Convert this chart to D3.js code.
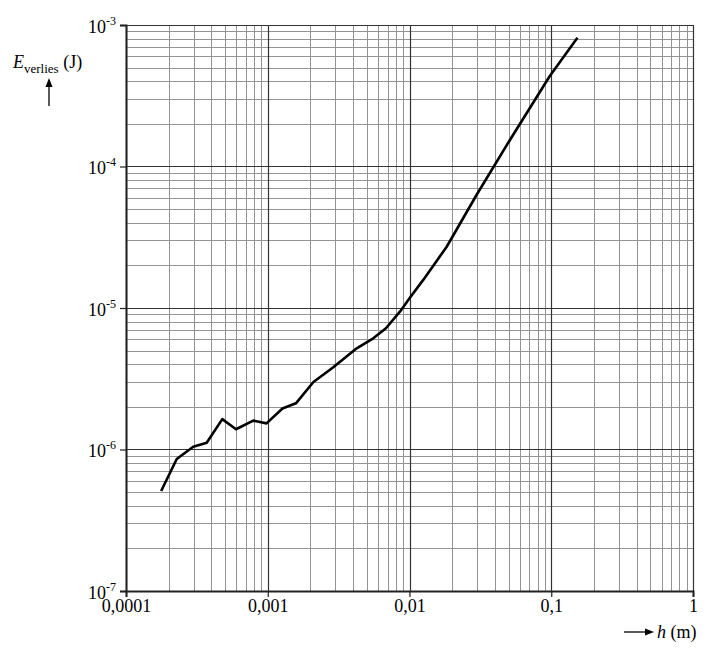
<!DOCTYPE html>
<html>
<head>
<meta charset="utf-8">
<script src="https://cdn.jsdelivr.net/npm/d3@7"></script>
<style>
  body { margin: 0; background: #fff; }
  svg text { font-family: "Liberation Serif", "DejaVu Serif", serif; fill: #000; }
</style>
</head>
<body>
<div id="chart"></div>
<script>
// h (m) en E_verlies (J)
const hValues = [1.77e-4, 2.28e-4, 2.98e-4, 3.71e-4, 4.78e-4, 5.97e-4, 7.9e-4, 9.8e-4,
  1.27e-3, 1.58e-3, 2.1e-3, 2.9e-3, 4.24e-3, 5.55e-3, 6.82e-3, 8.56e-3,
  1.0e-2, 1.25e-2, 1.83e-2, 2.97e-2, 5.11e-2, 9.77e-2, 0.153];
const eValues = [5.09e-7, 8.57e-7, 1.047e-6, 1.117e-6, 1.64e-6, 1.39e-6, 1.60e-6, 1.53e-6,
  1.95e-6, 2.12e-6, 3.0e-6, 3.81e-6, 5.19e-6, 6.11e-6, 7.19e-6, 9.42e-6,
  1.17e-5, 1.58e-5, 2.71e-5, 6.29e-5, 1.54e-4, 4.36e-4, 8.14e-4];

const xTicks = [1e-4, 1e-3, 1e-2, 1e-1, 1];
const xTickLabels = ['0,0001', '0,001', '0,01', '0,1', '1'];
const yTicks = [1e-7, 1e-6, 1e-5, 1e-4, 1e-3];
const yTickExponents = ['-7', '-6', '-5', '-4', '-3'];

const width = 717, height = 652;
const margin = {top: 25, right: 24, bottom: 61, left: 126};

const svg = d3.select('#chart').append('svg')
    .attr('width', width)
    .attr('height', height);

const x = d3.scaleLog()
    .domain([1e-4, 1])
    .range([margin.left, width - margin.right]);
const y = d3.scaleLog()
    .domain([1e-7, 1e-3])
    .range([height - margin.bottom, margin.top]);

// minor en major rasterlijnen
const minor = [];
const minorY = [];
for (let d = -4; d < 0; d++) {
  for (let k = 2; k <= 9; k++) minor.push(k * Math.pow(10, d));
}
for (let d = -7; d < -3; d++) {
  for (let k = 2; k <= 9; k++) minorY.push(k * Math.pow(10, d));
}

const grid = svg.append('g').attr('class', 'grid');
grid.selectAll('.vminor').data(minor).enter().append('line')
    .attr('x1', d => Math.round(x(d)) + 0.5).attr('x2', d => Math.round(x(d)) + 0.5)
    .attr('y1', y.range()[1]).attr('y2', y.range()[0])
    .attr('stroke', '#949494').attr('stroke-width', 1);
grid.selectAll('.hminor').data(minorY).enter().append('line')
    .attr('y1', d => Math.round(y(d)) + 0.5).attr('y2', d => Math.round(y(d)) + 0.5)
    .attr('x1', x.range()[0]).attr('x2', x.range()[1])
    .attr('stroke', '#949494').attr('stroke-width', 1);
grid.selectAll('.vmajor').data(xTicks).enter().append('line')
    .attr('x1', d => Math.round(x(d)) + 0.5).attr('x2', d => Math.round(x(d)) + 0.5)
    .attr('y1', y.range()[1]).attr('y2', y.range()[0])
    .attr('stroke', '#333').attr('stroke-width', 1.2);
grid.selectAll('.hmajor').data(yTicks).enter().append('line')
    .attr('y1', d => Math.round(y(d)) + 0.5).attr('y2', d => Math.round(y(d)) + 0.5)
    .attr('x1', x.range()[0]).attr('x2', x.range()[1])
    .attr('stroke', '#333').attr('stroke-width', 1.2);

// assen
const xAxis = svg.append('g')
    .attr('transform', `translate(0,${y.range()[0]})`)
    .call(d3.axisBottom(x).tickValues(xTicks).tickSize(6).tickFormat(''));
const yAxis = svg.append('g')
    .attr('transform', `translate(${x.range()[0]},0)`)
    .call(d3.axisLeft(y).tickValues(yTicks).tickSize(6).tickFormat(''));
[xAxis, yAxis].forEach(a => {
  a.select('.domain').attr('stroke', '#222').attr('stroke-width', 2);
  a.selectAll('.tick line').attr('stroke', '#222').attr('stroke-width', 1.2);
});

xAxis.selectAll('.tick').append('text')
    .attr('y', 21)
    .attr('text-anchor', 'middle')
    .attr('font-size', 18)
    .text((d, i) => xTickLabels[i]);

const yl = yAxis.selectAll('.tick').append('text')
    .attr('x', -10)
    .attr('y', 7)
    .attr('text-anchor', 'end')
    .attr('font-size', 18);
yl.append('tspan').text('10');
yl.append('tspan').attr('dy', -8).attr('font-size', 12).text((d, i) => yTickExponents[i]);

// aslabels
const yLabel = svg.append('text').attr('x', 13).attr('y', 68).attr('font-size', 18);
yLabel.append('tspan').attr('font-style', 'italic').text('E');
yLabel.append('tspan').attr('dy', 5).attr('font-size', 13).text('verlies');
yLabel.append('tspan').attr('dy', -5).text(' (J)');

svg.append('line').attr('x1', 49).attr('x2', 49).attr('y1', 106).attr('y2', 84)
    .attr('stroke', '#000').attr('stroke-width', 1.3);
svg.append('path').attr('d', 'M49,78 L45.5,87 L52.5,87 Z').attr('fill', '#000');

svg.append('line').attr('x1', 624).attr('x2', 647).attr('y1', 632).attr('y2', 632)
    .attr('stroke', '#000').attr('stroke-width', 1.3);
svg.append('path').attr('d', 'M654,632 L645,628.5 L645,635.5 Z').attr('fill', '#000');
const xLabel = svg.append('text').attr('x', 657).attr('y', 638).attr('font-size', 18);
xLabel.append('tspan').attr('font-style', 'italic').text('h');
xLabel.append('tspan').text(' (m)');

// meetkromme
const line = d3.line()
    .x(d => x(d[0]))
    .y(d => y(d[1]));

svg.append('path')
    .datum(hValues.map((h, i) => [h, eValues[i]]))
    .attr('fill', 'none')
    .attr('stroke', '#000')
    .attr('stroke-width', 2.6)
    .attr('stroke-linejoin', 'round')
    .attr('d', line);
</script>
</body>
</html>
